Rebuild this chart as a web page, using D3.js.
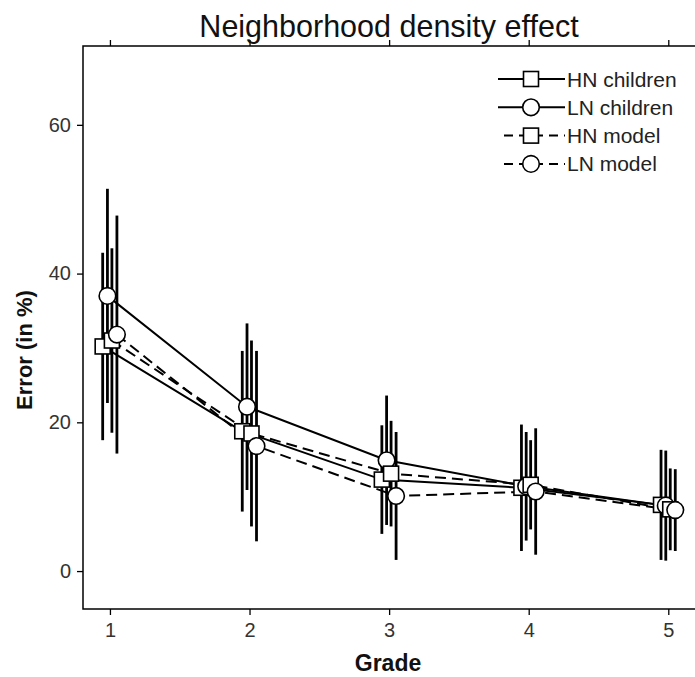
<!DOCTYPE html>
<html>
<head>
    <meta charset="utf-8">
    <title>Neighborhood density effect</title>
    <script src="https://d3js.org/d3.v7.min.js"></script>
    <style>
        body { margin: 0; background: #fff; }
        text { font-family: "Liberation Sans", Arial, sans-serif; }
    </style>
</head>
<body>
    <svg width="695" height="677"></svg>
    <script>
        // grades on the x axis
        var grades = [1, 2, 3, 4, 5];

        // mean error (in %) per grade
        var hnChildren = [30.2, 18.8, 12.3, 11.2, 8.9];
        var lnChildren = [37.0, 22.1, 14.9, 11.4, 8.8];
        var hnModel    = [31.0, 18.5, 13.1, 11.6, 8.3];
        var lnModel    = [31.8, 16.8, 10.1, 10.7, 8.2];

        // half length of the error bars
        var hnChildrenErr = [12.6, 10.8, 7.3, 8.5, 7.4];
        var lnChildrenErr = [14.4, 11.2, 8.7, 7.3, 7.4];
        var hnModelErr    = [12.4, 12.5, 7.1, 6.0, 5.5];
        var lnModelErr    = [16.0, 12.8, 8.6, 8.5, 5.5];

        var seriesNames = ["HN children", "LN children", "HN model", "LN model"];
        var yTicks = [0, 20, 40, 60];

        // build series table from the arrays above
        var series = [
            { name: seriesNames[0], values: hnChildren, err: hnChildrenErr, shape: "square", dashed: false, offset: -0.052 },
            { name: seriesNames[1], values: lnChildren, err: lnChildrenErr, shape: "circle", dashed: false, offset: -0.018 },
            { name: seriesNames[2], values: hnModel,    err: hnModelErr,    shape: "square", dashed: true,  offset: 0.014 },
            { name: seriesNames[3], values: lnModel,    err: lnModelErr,    shape: "circle", dashed: true,  offset: 0.05 }
        ];
        series.forEach(function(s) {
            s.points = grades.map(function(g, i) {
                return { x: g + s.offset, y: s.values[i], e: s.err[i] };
            });
        });

        var svg = d3.select("svg");

        // plot frame (note: "top" is reserved on window, so use plot* names)
        // right edge sits just past the picture, as in the original
        var plotLeft = 83, plotTop = 46, plotRight = 699, plotBottom = 609;

        var x = d3.scaleLinear().domain([0.807, 5.22]).range([plotLeft, plotRight]);
        var y = d3.scaleLinear().domain([-5.1, 70.6]).range([plotBottom, plotTop]);

        // frame
        svg.append("rect")
            .attr("x", plotLeft)
            .attr("y", plotTop)
            .attr("width", plotRight - plotLeft)
            .attr("height", plotBottom - plotTop)
            .attr("fill", "none")
            .attr("stroke", "#000")
            .attr("stroke-width", 1.5);

        // axes
        var xAxis = d3.axisBottom(x).tickValues(grades).tickSize(6).tickPadding(8).tickFormat(d3.format("d"));
        var xTop = d3.axisTop(x).tickValues(grades).tickSize(6).tickFormat("");
        var yAxis = d3.axisLeft(y).tickValues(yTicks).tickSize(6).tickPadding(6).tickFormat(d3.format("d"));

        function styleAxis(g) {
            g.select(".domain").remove();
            g.selectAll(".tick line").attr("stroke", "#000").attr("stroke-width", 1.3);
            g.selectAll(".tick text")
                .attr("fill", "#333")
                .style("font-family", "'Liberation Sans', Arial, sans-serif")
                .style("font-size", "20px");
        }

        svg.append("g").attr("transform", "translate(0," + plotBottom + ")").call(xAxis).call(styleAxis);
        svg.append("g").attr("transform", "translate(0," + plotTop + ")").call(xTop).call(styleAxis);
        svg.append("g").attr("transform", "translate(" + plotLeft + ",0)").call(yAxis).call(styleAxis);

        // titles
        svg.append("text")
            .attr("x", 389)
            .attr("y", 37)
            .attr("text-anchor", "middle")
            .style("font-size", "30.5px")
            .attr("fill", "#111")
            .text("Neighborhood density effect");

        svg.append("text")
            .attr("x", 388)
            .attr("y", 671)
            .attr("text-anchor", "middle")
            .style("font-size", "23px")
            .style("font-weight", "bold")
            .attr("fill", "#111")
            .text("Grade");

        svg.append("text")
            .attr("transform", "translate(32,350) rotate(-90)")
            .attr("text-anchor", "middle")
            .style("font-size", "22px")
            .style("font-weight", "bold")
            .attr("fill", "#111")
            .text("Error (in %)");

        var line = d3.line()
            .x(function(d) { return x(d.x); })
            .y(function(d) { return y(d.y); });

        // connecting lines
        svg.selectAll(".series-line")
            .data(series)
            .enter()
            .append("path")
            .attr("class", "series-line")
            .attr("d", function(s) { return line(s.points); })
            .attr("fill", "none")
            .attr("stroke", "#000")
            .attr("stroke-width", 2)
            .attr("stroke-dasharray", function(s) { return s.dashed ? "11,6" : null; });

        // error bars
        series.forEach(function(s) {
            svg.selectAll(null)
                .data(s.points)
                .enter()
                .append("line")
                .attr("x1", function(d) { return x(d.x); })
                .attr("x2", function(d) { return x(d.x); })
                .attr("y1", function(d) { return y(d.y - d.e); })
                .attr("y2", function(d) { return y(d.y + d.e); })
                .attr("stroke", "#000")
                .attr("stroke-width", 2.8);
        });

        // markers
        function drawMarker(g, shape, cx, cy) {
            if (shape === "circle") {
                g.append("circle")
                    .attr("cx", cx).attr("cy", cy).attr("r", 8.3)
                    .attr("fill", "#fff").attr("stroke", "#000").attr("stroke-width", 1.6);
            } else {
                g.append("rect")
                    .attr("x", cx - 7.5).attr("y", cy - 7.5)
                    .attr("width", 15).attr("height", 15)
                    .attr("fill", "#fff").attr("stroke", "#000").attr("stroke-width", 1.6);
            }
        }

        var markers = svg.append("g");
        series.forEach(function(s) {
            s.points.forEach(function(d) {
                drawMarker(markers, s.shape, x(d.x), y(d.y));
            });
        });

        // legend
        var legend = svg.append("g");
        series.forEach(function(s, i) {
            var ly = 79 + i * 28.3;
            legend.append("line")
                .attr("x1", s.dashed ? 504 : 498)
                .attr("x2", 565)
                .attr("y1", ly).attr("y2", ly)
                .attr("stroke", "#000")
                .attr("stroke-width", 2)
                .attr("stroke-dasharray", s.dashed ? "9,6" : null);
            drawMarker(legend, s.shape, 531, ly);
            legend.append("text")
                .attr("x", 567)
                .attr("y", ly + 7.5)
                .style("font-size", "21px")
                .attr("fill", "#222")
                .text(s.name);
        });
    </script>
</body>
</html>
